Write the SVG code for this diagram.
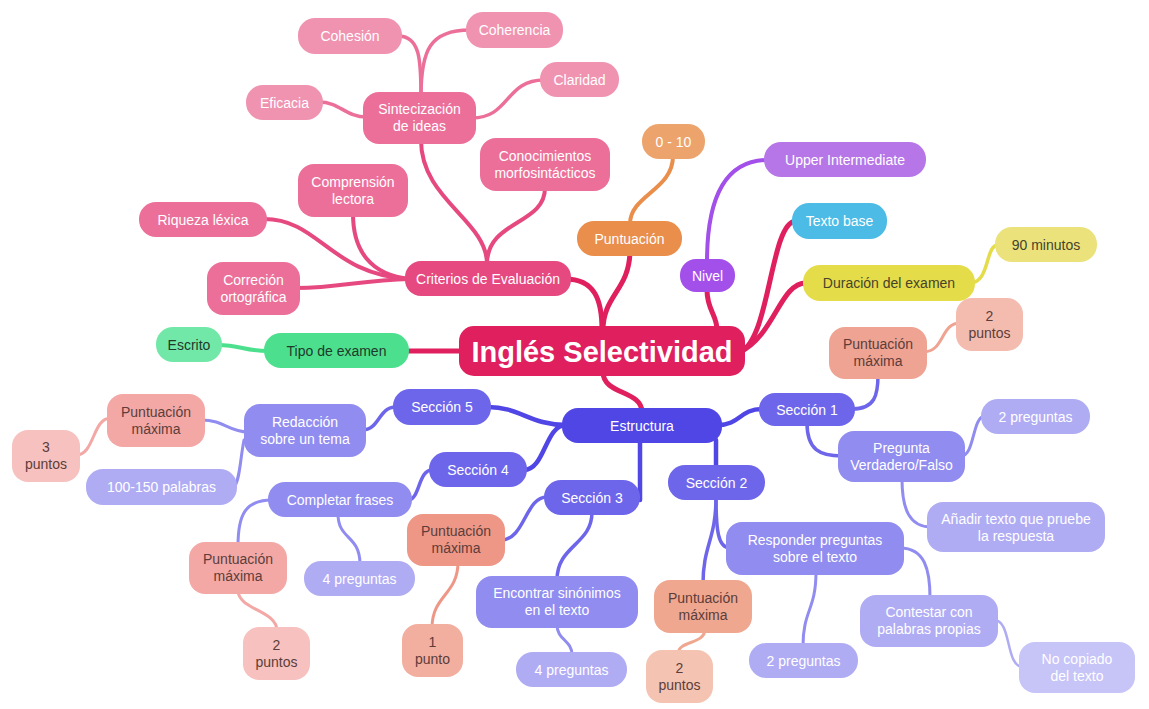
<svg xmlns="http://www.w3.org/2000/svg" width="1149" height="709" viewBox="0 0 1149 709">
<style>
text{font-family:"Liberation Sans",Arial,sans-serif;font-size:14px;text-anchor:middle;dominant-baseline:central;fill:#fff}
.dk text{fill:#5c3d3a}
.gr text{fill:#1f3a2a}
.yl text{fill:#45432a}
.c path{fill:none;stroke-linecap:round}
.r0{stroke:#E01F5E;stroke-width:5}
.pk1{stroke:#E6497F;stroke-width:4}
.pk2{stroke:#EC6F9A;stroke-width:3.5}
.in1{stroke:#5046E5;stroke-width:4.5}
.in2{stroke:#6E66EA;stroke-width:3.5}
.in3{stroke:#918CEF;stroke-width:3}
.in4{stroke:#B0ACF4;stroke-width:2.5}
</style>
<rect width="1149" height="709" fill="#fff"/>
<g id="connectors" class="c">
<path class="r0" d="M565,279 C595,279 602,300 602,330"/>
<path class="r0" d="M630,250 C630,290 603,295 603,330"/>
<path class="r0" d="M707,290 C707,310 717,315 717,330"/>
<path class="r0" d="M740,352 C770,340 770,225 795,221"/>
<path class="r0" d="M740,352 C775,335 780,283 806,283"/>
<path class="r0" d="M405,351 L462,351"/>
<path class="r0" d="M603,372 C603,395 642,390 642,412"/>
<path d="M630,224 C630,195 673,190 673,156" stroke="#E98E4B" stroke-width="4"/>
<path d="M707,262 C707,190 730,160 768,160" stroke="#A34FEA" stroke-width="4"/>
<path d="M970,283 C990,283 985,245 998,245" stroke="#E5DC4A" stroke-width="3.5"/>
<path d="M268,351 C245,351 240,345 218,345" stroke="#4CE08E" stroke-width="4"/>
<path class="pk1" d="M487,264 C487,220 421,200 421,140"/>
<path class="pk1" d="M487,264 C487,220 545,225 545,188"/>
<path class="pk1" d="M410,279 C370,275 353,250 353,214"/>
<path class="pk1" d="M410,279 C330,275 320,219 264,219"/>
<path class="pk1" d="M410,279 C360,280 340,288 296,288"/>
<path class="pk2" d="M421,96 C421,60 420,36 398,36"/>
<path class="pk2" d="M421,96 C421,50 430,30 470,30"/>
<path class="pk2" d="M472,118 C510,118 505,80 544,80"/>
<path class="pk2" d="M367,117 C345,117 340,102 319,102"/>
<path class="in1" d="M566,425 C530,425 520,407 488,407"/>
<path class="in1" d="M566,425 C545,425 545,470 524,470"/>
<path class="in1" d="M640,440 L640,500"/>
<path class="in1" d="M716,440 L716,468"/>
<path class="in1" d="M718,425 C740,425 740,409 762,409"/>
<path class="in2" d="M396,407 C378,407 380,430 362,430"/>
<path class="in2" d="M432,470 C418,470 420,500 408,500"/>
<path class="in2" d="M547,497 C525,497 525,540 501,540"/>
<path class="in2" d="M592,512 C592,545 557,545 557,580"/>
<path class="in2" d="M716,497 C716,530 718,548 730,548"/>
<path class="in2" d="M716,497 C716,540 703,545 703,584"/>
<path class="in2" d="M852,409 C875,409 878,395 878,375"/>
<path class="in2" d="M807,423 C807,450 820,456 842,456"/>
<path class="in3" d="M248,432 C228,432 225,420 201,420"/>
<path class="in3" d="M244,440 C240,460 240,480 234,487"/>
<path class="in3" d="M272,500 C245,500 238,515 238,546"/>
<path class="in3" d="M338,514 C338,540 360,535 360,564"/>
<path class="in3" d="M557,625 C557,640 572,640 572,655"/>
<path class="in3" d="M816,572 C816,610 803,610 803,646"/>
<path class="in3" d="M900,548 C925,548 930,570 930,598"/>
<path class="in3" d="M961,456 C975,456 972,416 985,416"/>
<path class="in3" d="M902,479 C902,510 910,527 931,527"/>
<path class="in4" d="M994,620 C1012,620 1005,667 1023,667"/>
<path d="M111,418 C92,418 95,455 76,455" stroke="#F3A8A6" stroke-width="3"/>
<path d="M238,590 C238,610 277,610 277,631" stroke="#F3A8A6" stroke-width="3"/>
<path d="M458,562 C458,595 432,595 432,628" stroke="#EE9787" stroke-width="3"/>
<path d="M705,629 C705,645 678,640 678,654" stroke="#F0A78F" stroke-width="3"/>
<path d="M923,352 C945,352 940,323 960,323" stroke="#EFA393" stroke-width="3"/>
</g>
<g id="root"><rect x="459" y="326" width="286" height="50" rx="15" fill="#E01F5E"/><text x="602" y="352" style="font-size:29px;font-weight:bold">Inglés Selectividad</text></g>
<g id="estructura"><rect x="562" y="408" width="160" height="35" rx="16" fill="#5046E5"/><text x="642" y="426">Estructura</text></g>
<g id="criterios"><rect x="405" y="261" width="166" height="35" rx="16" fill="#E6497F"/><text x="488" y="279">Criterios de Evaluación</text></g>
<g id="sintecizacion"><rect x="363" y="92" width="113" height="52" rx="16" fill="#EC6F9A"/><text x="419.5" y="109">Sintecización</text><text x="419.5" y="126">de ideas</text></g>
<g id="cohesion"><rect x="298" y="18" width="104" height="36" rx="17" fill="#F093B1"/><text x="350" y="36">Cohesión</text></g>
<g id="coherencia"><rect x="466" y="12" width="97" height="36" rx="17" fill="#F093B1"/><text x="514.5" y="30">Coherencia</text></g>
<g id="claridad"><rect x="540" y="62" width="79" height="35" rx="17" fill="#F093B1"/><text x="579.5" y="80">Claridad</text></g>
<g id="eficacia"><rect x="246" y="85" width="77" height="35" rx="17" fill="#F093B1"/><text x="284.5" y="103">Eficacia</text></g>
<g id="conocimientos"><rect x="480" y="138" width="130" height="53" rx="16" fill="#EC6F9A"/><text x="545" y="156">Conocimientos</text><text x="545" y="173">morfosintácticos</text></g>
<g id="comprension"><rect x="298" y="164" width="110" height="53" rx="16" fill="#EC6F9A"/><text x="353" y="182">Comprensión</text><text x="353" y="199">lectora</text></g>
<g id="riqueza"><rect x="139" y="202" width="128" height="35" rx="17" fill="#EC6F9A"/><text x="203" y="220">Riqueza léxica</text></g>
<g id="correcion"><rect x="207" y="262" width="93" height="53" rx="16" fill="#EC6F9A"/><text x="253.5" y="280">Correción</text><text x="253.5" y="297">ortográfica</text></g>
<g id="tipo" class="gr"><rect x="264" y="333" width="145" height="35" rx="17" fill="#4CE08E"/><text x="336.5" y="351">Tipo de examen</text></g>
<g id="escrito" class="gr"><rect x="156" y="327" width="66" height="35" rx="17" fill="#72E8A8"/><text x="189" y="345">Escrito</text></g>
<g id="puntuacion"><rect x="577" y="221" width="105" height="35" rx="17" fill="#E98E4B"/><text x="629.5" y="239">Puntuación</text></g>
<g id="p010"><rect x="642" y="124" width="63" height="35" rx="17" fill="#EDA46C"/><text x="673.5" y="142">0 - 10</text></g>
<g id="nivel"><rect x="680" y="259" width="55" height="33" rx="16" fill="#A34FEA"/><text x="707.5" y="276">Nivel</text></g>
<g id="upper"><rect x="764" y="142" width="162" height="35" rx="17" fill="#B676E8"/><text x="845" y="160">Upper Intermediate</text></g>
<g id="textobase"><rect x="792" y="203" width="95" height="36" rx="17" fill="#4CBBE6"/><text x="839.5" y="221">Texto base</text></g>
<g id="duracion" class="yl"><rect x="803" y="265" width="172" height="36" rx="17" fill="#E5DC4A"/><text x="889" y="283">Duración del examen</text></g>
<g id="minutos" class="yl"><rect x="995" y="227" width="102" height="35" rx="17" fill="#EBE27C"/><text x="1046" y="245">90 minutos</text></g>
<g id="seccion1"><rect x="759" y="393" width="96" height="33" rx="16" fill="#6E66EA"/><text x="807" y="410">Sección 1</text></g>
<g id="pm1" class="dk"><rect x="829" y="327" width="98" height="52" rx="16" fill="#EFA393"/><text x="878" y="344">Puntuación</text><text x="878" y="361">máxima</text></g>
<g id="puntos1" class="dk"><rect x="956" y="298" width="67" height="53" rx="16" fill="#F4BBAF"/><text x="989.5" y="316">2</text><text x="989.5" y="333">puntos</text></g>
<g id="pvf"><rect x="838" y="431" width="127" height="51" rx="16" fill="#918CEF"/><text x="901.5" y="448">Pregunta</text><text x="901.5" y="465">Verdadero/Falso</text></g>
<g id="preg1"><rect x="981" y="399" width="109" height="35" rx="17" fill="#B0ACF4"/><text x="1035.5" y="417">2 preguntas</text></g>
<g id="anadir"><rect x="927" y="502" width="178" height="50" rx="16" fill="#B0ACF4"/><text x="1016" y="519">Añadir texto que pruebe</text><text x="1016" y="536">la respuesta</text></g>
<g id="seccion2"><rect x="668" y="465" width="97" height="35" rx="17" fill="#6E66EA"/><text x="716.5" y="483">Sección 2</text></g>
<g id="responder"><rect x="726" y="522" width="178" height="53" rx="16" fill="#918CEF"/><text x="815" y="540">Responder preguntas</text><text x="815" y="557">sobre el texto</text></g>
<g id="pm2" class="dk"><rect x="654" y="580" width="98" height="53" rx="16" fill="#F0A78F"/><text x="703" y="598">Puntuación</text><text x="703" y="615">máxima</text></g>
<g id="puntos2" class="dk"><rect x="646" y="650" width="67" height="53" rx="16" fill="#F4C3B2"/><text x="679.5" y="668">2</text><text x="679.5" y="685">puntos</text></g>
<g id="preg2"><rect x="749" y="643" width="109" height="35" rx="17" fill="#B0ACF4"/><text x="803.5" y="661">2 preguntas</text></g>
<g id="contestar"><rect x="860" y="595" width="138" height="52" rx="16" fill="#B0ACF4"/><text x="929" y="612">Contestar con</text><text x="929" y="629">palabras propias</text></g>
<g id="nocopiado"><rect x="1019" y="642" width="116" height="51" rx="16" fill="#C7C4F7"/><text x="1077" y="659">No copiado</text><text x="1077" y="676">del texto</text></g>
<g id="seccion3"><rect x="544" y="480" width="96" height="35" rx="17" fill="#6E66EA"/><text x="592" y="498">Sección 3</text></g>
<g id="pm3" class="dk"><rect x="407" y="514" width="98" height="52" rx="16" fill="#EE9787"/><text x="456" y="531">Puntuación</text><text x="456" y="548">máxima</text></g>
<g id="punto3" class="dk"><rect x="402" y="624" width="61" height="53" rx="16" fill="#F2AE9F"/><text x="432.5" y="642">1</text><text x="432.5" y="659">punto</text></g>
<g id="encontrar"><rect x="476" y="576" width="162" height="52" rx="16" fill="#918CEF"/><text x="557" y="593">Encontrar sinónimos</text><text x="557" y="610">en el texto</text></g>
<g id="preg3"><rect x="516" y="652" width="111" height="35" rx="17" fill="#B0ACF4"/><text x="571.5" y="670">4 preguntas</text></g>
<g id="seccion4"><rect x="429" y="452" width="98" height="35" rx="17" fill="#6E66EA"/><text x="478" y="470">Sección 4</text></g>
<g id="completar"><rect x="268" y="482" width="144" height="35" rx="17" fill="#918CEF"/><text x="340" y="500">Completar frases</text></g>
<g id="pm4" class="dk"><rect x="189" y="542" width="98" height="52" rx="16" fill="#F3A8A6"/><text x="238" y="559">Puntuación</text><text x="238" y="576">máxima</text></g>
<g id="puntos4" class="dk"><rect x="243" y="627" width="67" height="53" rx="16" fill="#F6C1BE"/><text x="276.5" y="645">2</text><text x="276.5" y="662">puntos</text></g>
<g id="preg4"><rect x="304" y="561" width="111" height="35" rx="17" fill="#B0ACF4"/><text x="359.5" y="579">4 preguntas</text></g>
<g id="seccion5"><rect x="393" y="389" width="98" height="36" rx="17" fill="#6E66EA"/><text x="442" y="407">Sección 5</text></g>
<g id="redaccion"><rect x="244" y="404" width="122" height="53" rx="16" fill="#918CEF"/><text x="305" y="422">Redacción</text><text x="305" y="439">sobre un tema</text></g>
<g id="pm5" class="dk"><rect x="107" y="394" width="98" height="53" rx="16" fill="#F3A8A6"/><text x="156" y="412">Puntuación</text><text x="156" y="429">máxima</text></g>
<g id="puntos5" class="dk"><rect x="12" y="430" width="68" height="52" rx="16" fill="#F6C1BE"/><text x="46" y="447">3</text><text x="46" y="464">puntos</text></g>
<g id="palabras"><rect x="86" y="469" width="151" height="36" rx="17" fill="#B0ACF4"/><text x="161.5" y="487">100-150 palabras</text></g>
</svg>
